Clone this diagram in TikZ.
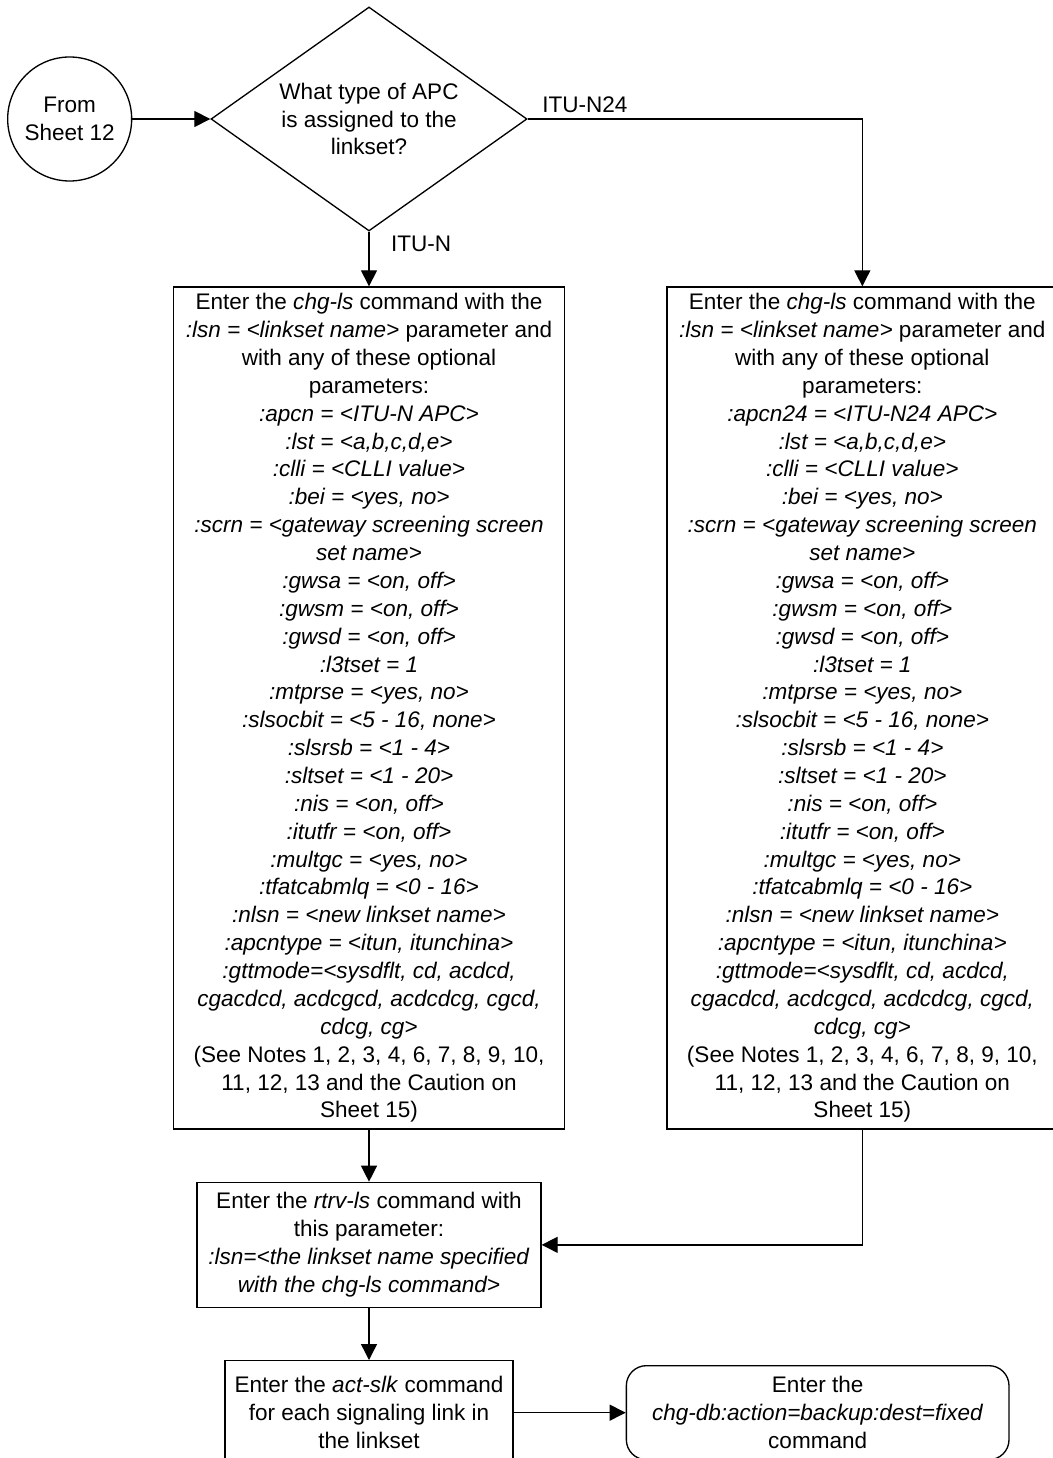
\documentclass[tikz,border=0pt]{standalone}
\usepackage{fontspec}
\setmainfont{Liberation Sans}
\usetikzlibrary{shapes.geometric, arrows.meta, positioning}

% parameter list shared by both chg-ls boxes
\newcommand{\chglstext}[1]{%
  Enter the \textit{chg-ls} command with the\\
  \textit{:lsn = <linkset name>} parameter and\\
  with any of these optional\\
  parameters:\\
  \textit{#1}\\
  \textit{:lst = <a,b,c,d,e>}\\
  \textit{:clli = <CLLI value>}\\
  \textit{:bei = <yes, no>}\\
  \textit{:scrn = <gateway screening screen}\\
  \textit{set name>}\\
  \textit{:gwsa = <on, off>}\\
  \textit{:gwsm = <on, off>}\\
  \textit{:gwsd = <on, off>}\\
  \textit{:l3tset = 1}\\
  \textit{:mtprse = <yes, no>}\\
  \textit{:slsocbit = <5 - 16, none>}\\
  \textit{:slsrsb = <1 - 4>}\\
  \textit{:sltset = <1 - 20>}\\
  \textit{:nis = <on, off>}\\
  \textit{:itutfr = <on, off>}\\
  \textit{:multgc = <yes, no>}\\
  \textit{:tfatcabmlq = <0 - 16>}\\
  \textit{:nlsn = <new linkset name>}\\
  \textit{:apcntype = <itun, itunchina>}\\
  \textit{:gttmode=<sysdflt, cd, acdcd,}\\
  \textit{cgacdcd, acdcgcd, acdcdcg, cgcd,}\\
  \textit{cdcg, cg>}\\
  (See Notes 1, 2, 3, 4, 6, 7, 8, 9, 10,\\
  11, 12, 13 and the Caution on\\
  Sheet 15)}

\begin{document}
\begin{tikzpicture}[
  x=0.75pt, y=-0.75pt,
  every node/.style={font=\fontsize{16.9}{20.9}\selectfont},
  box/.style={draw, line width=1pt, align=center, inner sep=0pt},
  cmdbox/.style={box, minimum width=293pt, minimum height=631.5pt},
  connector/.style={circle, draw, line width=1pt, align=center, minimum size=93pt, inner sep=0pt},
  decision/.style={diamond, draw, line width=1pt, align=center, aspect=1.41,
    minimum width=237pt, minimum height=168pt, inner sep=0pt},
  endbox/.style={box, rounded corners=15pt},
  lbl/.style={inner sep=0pt},
  arr/.style={line width=1pt, -{Triangle[length=12pt, width=12pt]}},
]

\useasboundingbox (0,0) rectangle (1052,1458);

% decision and sheet connector
\node[decision] (apc) at (369,119) {What type of APC\\is assigned to the\\linkset?};
\node[connector, left=58.5pt of apc] (from) {From\\Sheet 12};

% the two chg-ls branches
\node[cmdbox, below=41pt of apc] (itun) {\chglstext{:apcn = <ITU-N APC>}};
\node[cmdbox, right=76pt of itun] (n24) {\chglstext{:apcn24 = <ITU-N24 APC>}};

% verify and activate
\node[box, minimum width=258pt, minimum height=93.75pt, below=39pt of itun] (rtrv)
  {Enter the \textit{rtrv-ls} command with\\this parameter:\\
   \textit{:lsn=<the linkset name specified}\\\textit{with the chg-ls command>}};
\node[box, minimum width=216pt, minimum height=78pt, below=39pt of rtrv] (act)
  {Enter the \textit{act-slk} command\\for each signaling link in\\the linkset};
\node[endbox, minimum width=287pt, minimum height=70.5pt, right=84pt of act] (backup)
  {Enter the\\\textit{chg-db:action=backup:dest=fixed}\\command};

% arrows
\draw[arr] (from) -- (apc);
\draw[arr] (apc.south) -- node[lbl, anchor=west, pos=0.23, xshift=16pt] {ITU-N} (itun.north);
\draw[arr] (apc.east) -| node[lbl, anchor=base west, pos=0, xshift=10.5pt, yshift=5pt] {ITU-N24} (n24.north);
\draw[arr] (itun) -- (rtrv);
\draw[arr] (n24.south) |- (rtrv.east);
\draw[arr] (rtrv) -- (act);
\draw[arr] (act) -- (backup);

\end{tikzpicture}
\end{document}
